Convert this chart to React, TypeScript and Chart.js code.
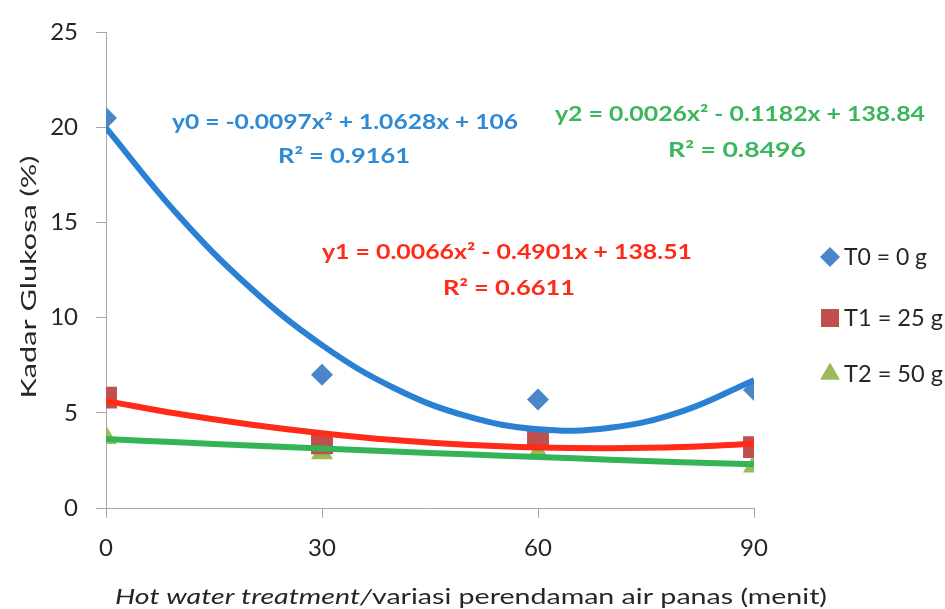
import React, { useEffect, useRef } from "react";
import { Chart, registerables } from "chart.js";

Chart.register(...registerables);

// ---- data ----
const xValues = [0, 30, 60, 90];
const t0Values = [20.5, 7.0, 5.7, 6.2];
const t1Values = [5.8, 3.4, 3.7, 3.2];
const t2Values = [3.7, 2.9, 2.9, 2.2];

// trend curves (polynomial trendlines)
const trendX = [0, 10, 20, 30, 40, 50, 60, 70, 80, 90];
const t0Trend = [19.98, 15.4, 11.59, 8.56, 6.31, 4.84, 4.14, 4.22, 5.08, 6.72];
const t1Trend = [5.63, 4.95, 4.39, 3.93, 3.57, 3.32, 3.18, 3.14, 3.2, 3.38];
const t2Trend = [3.63, 3.45, 3.29, 3.13, 2.97, 2.82, 2.68, 2.54, 2.41, 2.3];

const seriesLabels = ["T0 = 0 g", "T1 = 25 g", "T2 = 50 g"];
const xTicks = [0, 30, 60, 90];
const yTicks = [0, 5, 10, 15, 20, 25];

const eqLines0 = ["y0 = -0.0097x² + 1.0628x + 106", "R² = 0.9161"];
const eqLines1 = ["y1 = 0.0066x² - 0.4901x + 138.51", "R² = 0.6611"];
const eqLines2 = ["y2 = 0.0026x² - 0.1182x + 138.84", "R² = 0.8496"];

const yTitle = "Kadar Glukosa (%)";
const xTitleItalic = "Hot water treatment/";
const xTitleNormal = "variasi perendaman air panas (menit)";

// ---- styles ----
const FONT = "Lato, 'Open Sans', sans-serif";
const markerColors = ["#4a86c8", "#c0504d", "#9bbb59"];
const lineColors = ["#2a80d2", "#ff2a18", "#34b457"];
const eqColors = ["#2e8ad4", "#ff2a18", "#3cb55c"];
const axisColor = "#a6a6a6";
const textColor = "#262626";

const toPts = (xs: number[], ys: number[]) => xs.map((x, i) => ({ x, y: ys[i] }));

function drawMarker(ctx: CanvasRenderingContext2D, kind: number, x: number, y: number) {
  ctx.beginPath();
  if (kind === 0) {
    const r = 10;
    ctx.moveTo(x, y - r);
    ctx.lineTo(x + r, y);
    ctx.lineTo(x, y + r);
    ctx.lineTo(x - r, y);
  } else if (kind === 1) {
    const s = 9;
    ctx.rect(x - s, y - s, 2 * s, 2 * s);
  } else {
    const r = 11.5;
    ctx.moveTo(x, y - r);
    ctx.lineTo(x + r * 0.866, y + r * 0.5);
    ctx.lineTo(x - r * 0.866, y + r * 0.5);
  }
  ctx.closePath();
  ctx.fillStyle = markerColors[kind];
  ctx.fill();
}

// draw text horizontally fitted to a target width
function fitText(
  ctx: CanvasRenderingContext2D,
  text: string,
  x: number,
  y: number,
  target: number,
  align: "center" | "left"
) {
  const w = ctx.measureText(text).width;
  const sx = target / w;
  ctx.save();
  ctx.translate(x, y);
  ctx.scale(sx, 1);
  ctx.textAlign = align;
  ctx.fillText(text, 0, 0);
  ctx.restore();
}

const overlayPlugin = {
  id: "overlay",
  afterDraw(chart: any) {
    const ctx: CanvasRenderingContext2D = chart.ctx;
    ctx.save();
    ctx.textBaseline = "middle";

    // equations
    const eqs = [
      { lines: eqLines0, x: [345, 344], y: [123, 157], w: [346, 132], c: eqColors[0] },
      { lines: eqLines1, x: [507, 509], y: [253, 289], w: [370, 132], c: eqColors[1] },
      { lines: eqLines2, x: [740, 737], y: [115, 151], w: [370, 138], c: eqColors[2] },
    ];
    ctx.font = `bold 20px ${FONT}`;
    eqs.forEach((e) => {
      ctx.fillStyle = e.c;
      e.lines.forEach((t, i) => {
        fitText(ctx, t, e.x[i], e.y[i], e.w[i], "center");
      });
    });

    // legend
    const legendY = [257, 318, 374];
    const legendW = [83, 99, 99];
    ctx.font = `24px ${FONT}`;
    seriesLabels.forEach((lab, i) => {
      drawMarker(ctx, i, 830, legendY[i]);
      ctx.fillStyle = textColor;
      fitText(ctx, lab, 844, legendY[i], legendW[i], "left");
    });

    // y title
    ctx.save();
    ctx.translate(29, 277);
    ctx.rotate(-Math.PI / 2);
    ctx.font = `22px ${FONT}`;
    ctx.fillStyle = textColor;
    fitText(ctx, yTitle, 0, 0, 243, "center");
    ctx.restore();

    // x title (italic part + normal part)
    const fi = `italic 21px ${FONT}`;
    const fn = `21px ${FONT}`;
    ctx.font = fi;
    const w1 = ctx.measureText(xTitleItalic).width;
    ctx.font = fn;
    const w2 = ctx.measureText(xTitleNormal).width;
    const target = 712;
    const sx = target / (w1 + w2);
    ctx.save();
    ctx.translate(471 - target / 2, 597);
    ctx.scale(sx, 1);
    ctx.textAlign = "left";
    ctx.fillStyle = textColor;
    ctx.font = fi;
    ctx.fillText(xTitleItalic, 0, 0);
    ctx.font = fn;
    ctx.fillText(xTitleNormal, w1, 0);
    ctx.restore();

    ctx.restore();
  },
};

export default function App() {
  const ref = useRef<HTMLCanvasElement | null>(null);
  useEffect(() => {
    document.body.style.margin = "0";
    const canvas = ref.current;
    if (!canvas) return;
    const trendDs = [t0Trend, t1Trend, t2Trend].map((d, i) => ({
      type: "line" as const,
      label: "trend" + i,
      data: toPts(trendX, d),
      borderColor: lineColors[i],
      borderWidth: 6,
      pointRadius: 0,
      tension: 0.4,
      fill: false,
      order: 0,
    }));
    const styles = ["rectRot", "rect", "triangle"];
    const radii = [11, 15.5, 12.7];
    const pointDs = [t0Values, t1Values, t2Values].map((d, i) => ({
      type: "scatter" as const,
      label: seriesLabels[i],
      data: toPts(xValues, d),
      pointStyle: styles[i],
      pointRadius: radii[i],
      pointBackgroundColor: markerColors[i],
      pointBorderWidth: 0,
      borderColor: markerColors[i],
      showLine: false,
      order: 1,
    }));
    const chart = new Chart(canvas, {
      type: "scatter",
      data: { datasets: [...trendDs, ...pointDs] as any },
      options: {
        animation: false,
        responsive: true,
        maintainAspectRatio: false,
        layout: { padding: { left: 0, top: 31, right: 191, bottom: 0 } },
        plugins: { legend: { display: false }, tooltip: { enabled: false } },
        scales: {
          x: {
            type: "linear",
            min: 0,
            max: 90,
            afterBuildTicks: (s: any) => {
              s.ticks = xTicks.map((v) => ({ value: v }));
            },
            afterFit: (s: any) => {
              s.height = 101;
            },
            grid: { display: true, drawOnChartArea: false, drawTicks: true, tickLength: 10, color: axisColor, lineWidth: 1 },
            border: { display: true, color: axisColor, width: 1 },
            ticks: { font: { family: FONT, size: 24 }, color: textColor, padding: 16 },
          },
          y: {
            type: "linear",
            min: 0,
            max: 25,
            afterBuildTicks: (s: any) => {
              s.ticks = yTicks.map((v) => ({ value: v }));
            },
            afterFit: (s: any) => {
              s.width = 106;
            },
            grid: { display: true, drawOnChartArea: false, drawTicks: true, tickLength: 10, color: axisColor, lineWidth: 1 },
            border: { display: true, color: axisColor, width: 1 },
            ticks: { font: { family: FONT, size: 24 }, color: textColor, padding: 18 },
          },
        },
      },
      plugins: [overlayPlugin],
    });
    return () => chart.destroy();
  }, []);
  return (
    <div style={{ width: 945, height: 609, position: "relative" }}>
      <canvas ref={ref} />
    </div>
  );
}
